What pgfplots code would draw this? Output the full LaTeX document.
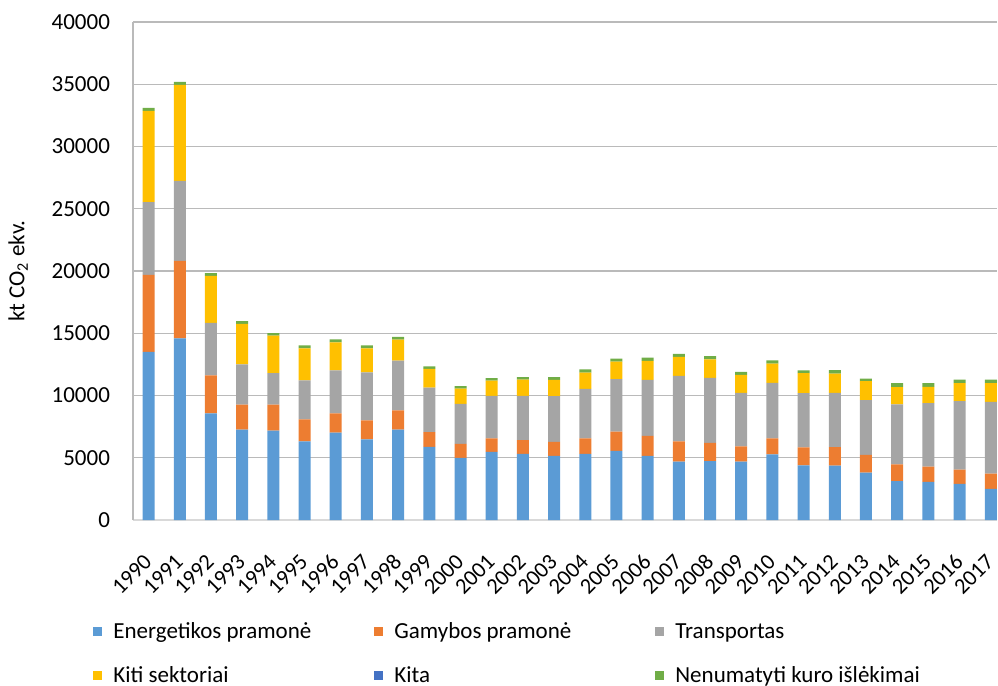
\documentclass[border=0pt]{standalone}
\usepackage{fontspec}
\setmainfont{Carlito}
\usepackage{pgfplots}
\usepackage{pgfplotstable}
\pgfplotsset{compat=1.18}

\definecolor{cEn}{HTML}{5B9BD5}
\definecolor{cGa}{HTML}{ED7D31}
\definecolor{cTr}{HTML}{A5A5A5}
\definecolor{cKs}{HTML}{FFC000}
\definecolor{cKi}{HTML}{4472C4}
\definecolor{cNe}{HTML}{70AD47}
\definecolor{cGrid}{HTML}{BABABA}
\definecolor{cAx}{HTML}{D9D9D9}

% idx year Energetikos Gamybos Transportas Kiti Kita Nenumatyti
\pgfplotstableread{
idx year En Ga Tr Ks Ki Ne
0 1990 13510 6180 5840 7330 0 240
1 1991 14580 6240 6420 7710 0 240
2 1992 8560 3050 4230 3770 0 220
3 1993 7250 2010 3240 3260 0 220
4 1994 7170 2090 2540 3000 0 210
5 1995 6320 1760 3130 2570 0 240
6 1996 7010 1550 3450 2250 0 240
7 1997 6480 1520 3850 1930 0 240
8 1998 7250 1550 4000 1680 0 220
9 1999 5880 1180 3580 1500 0 190
10 2000 5000 1120 3210 1230 0 190
11 2001 5480 1070 3420 1230 0 190
12 2002 5320 1100 3550 1310 0 190
13 2003 5160 1120 3670 1310 0 210
14 2004 5320 1230 3980 1310 0 250
15 2005 5560 1530 4220 1420 0 240
16 2006 5160 1600 4500 1520 0 270
17 2007 4680 1630 5270 1520 0 240
18 2008 4730 1470 5220 1490 0 250
19 2009 4680 1230 4300 1450 0 240
20 2010 5270 1280 4470 1550 0 260
21 2011 4390 1440 4360 1600 0 220
22 2012 4360 1500 4350 1550 0 270
23 2013 3800 1440 4390 1520 0 210
24 2014 3130 1340 4810 1390 30 290
25 2015 3070 1210 5110 1310 0 290
26 2016 2910 1130 5510 1440 0 290
27 2017 2490 1230 5770 1500 0 290
}\datatable

\begin{document}
\begin{tikzpicture}
\begin{axis}[
  scale only axis,
  width=432pt, height=249pt,
  xmin=-0.5, xmax=27.2,
  ymin=0, ymax=40000,
  ytick={0,5000,...,40000},
  xtick={0,...,27},
  xticklabels={1990,1991,1992,1993,1994,1995,1996,1997,1998,1999,2000,2001,2002,2003,2004,2005,2006,2007,2008,2009,2010,2011,2012,2013,2014,2015,2016,2017},
  ybar stacked,
  bar width=6pt,
  major tick length=0pt,
  axis x line*=bottom,
  axis y line*=left,
  x axis line style={draw=cAx, line width=0.6pt, -},
  y axis line style={draw=cGrid, line width=0.6pt, -},
  ymajorgrids,
  grid style={draw=cGrid, line width=0.6pt},
  scaled y ticks=false,
  /pgf/number format/assume math mode=true,
  /pgf/number format/set thousands separator={},
  tick label style={font=\fontsize{11.5}{13}\selectfont, text=black},
  yticklabel style={anchor=east, xshift=-8pt},
  xticklabel style={font=\fontsize{11.2}{13}\selectfont, xshift=-3pt, yshift=-11.5pt, rotate=45, anchor=north east},
  ylabel={kt CO\textsubscript{2} ekv.},
  ylabel style={font=\fontsize{11.5}{13}\selectfont, at={(axis description cs:-0.133,0.5)}, anchor=center},
  legend columns=3,
  legend style={
    at={(axis description cs:-0.0463,-0.2048)}, anchor=north west,
    draw=none, fill=none, inner sep=0pt,
    font=\fontsize{11.5}{13}\selectfont,
    nodes={text height=8pt, text depth=2.5pt, inner sep=0pt, anchor=base west},
    row sep=11.5pt,
    /tikz/every odd column/.append style={column sep=5.5pt},
    /tikz/every even column/.append style={column sep=0pt},
  },
  legend image code/.code={\fill[#1] (0pt,1.25pt) rectangle (4.5pt,5.75pt);},
  every axis plot/.append style={draw=none},
]
\addplot[fill=cEn] table[x=idx, y=En] {\datatable};
\addlegendentry{\makebox[130.5pt][l]{Energetikos pramonė}}
\addplot[fill=cGa] table[x=idx, y=Ga] {\datatable};
\addlegendentry{\makebox[130.5pt][l]{Gamybos pramonė}}
\addplot[fill=cTr] table[x=idx, y=Tr] {\datatable};
\addlegendentry{\makebox[130.5pt][l]{Transportas}}
\addplot[fill=cKs] table[x=idx, y=Ks] {\datatable};
\addlegendentry{\makebox[130.5pt][l]{Kiti sektoriai}}
\addplot[fill=cKi] table[x=idx, y=Ki] {\datatable};
\addlegendentry{\makebox[130.5pt][l]{Kita}}
\addplot[fill=cNe] table[x=idx, y=Ne] {\datatable};
\addlegendentry{\makebox[130.5pt][l]{Nenumatyti kuro išlėkimai}}
\coordinate (bl) at (rel axis cs:0,0);
\coordinate (tr) at (rel axis cs:1,1);
\end{axis}
\pgfresetboundingbox
\path[use as bounding box] ([shift={(-66.5pt,-83pt)}]bl) rectangle ([shift={(0.5pt,11pt)}]tr);
\end{tikzpicture}
\end{document}
